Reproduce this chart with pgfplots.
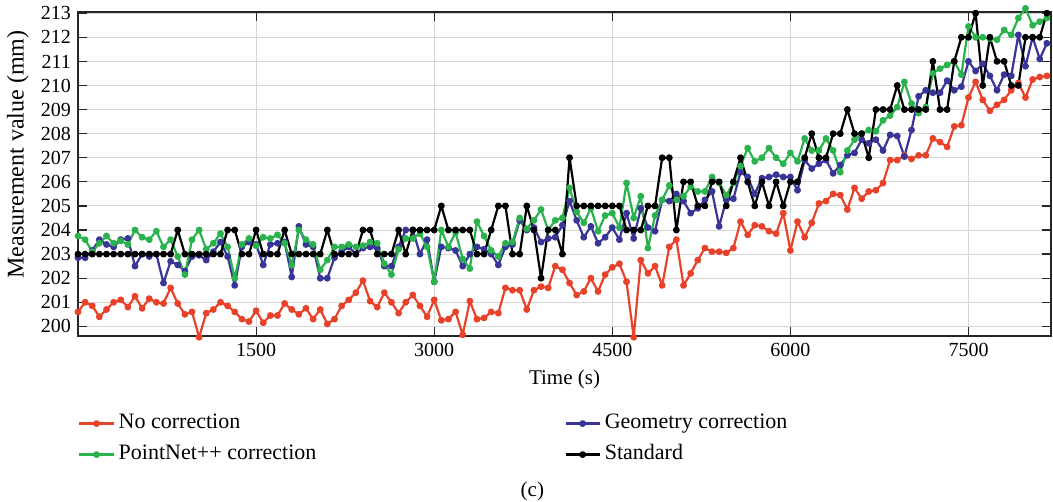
\documentclass[border=0pt]{standalone}
\usepackage{fontspec}
\setmainfont{Liberation Serif}
\usepackage{pgfplots}
\usepackage{pgfplotstable}
\pgfplotsset{compat=1.18}

\definecolor{cRed}{RGB}{233,66,42}
\definecolor{cBlue}{RGB}{56,52,152}
\definecolor{cGreen}{RGB}{42,178,76}
\definecolor{cGrid}{RGB}{214,214,214}

% time (s), no correction, geometry, pointnet++, standard
\pgfplotstableread{
t red blue green black
0 200.6 202.85 203.75 203
60 201.0 202.85 203.6 203
120 200.85 203.15 203.1 203
180 200.4 203.6 203.45 203
240 200.7 203.4 203.75 203
300 201.0 203.3 203.45 203
360 201.1 203.6 203.55 203
420 200.8 203.65 203.4 203
480 201.25 202.5 204.0 203
540 200.75 203.0 203.7 203
600 201.15 202.9 203.6 203
660 201.0 203.0 203.95 203
720 200.95 201.8 203.3 203
780 201.6 202.7 203.6 203
840 200.95 202.55 202.9 204
900 200.5 202.3 202.15 203
960 200.6 202.9 203.6 203
1020 199.55 202.95 204.0 203
1080 200.55 202.75 203.2 203
1140 200.7 203.1 203.45 203
1200 201.0 203.5 203.85 203
1260 200.85 202.9 203.3 204
1320 200.6 201.7 202.0 204
1380 200.3 203.3 203.4 203
1440 200.2 203.5 203.65 203
1500 200.65 203.4 203.35 204
1560 200.15 202.55 203.7 203
1620 200.45 203.4 203.65 203
1680 200.45 203.45 203.8 203
1740 200.95 203.5 203.45 204
1800 200.7 202.05 202.55 203
1860 200.5 204.15 204.0 203
1920 200.75 203.4 203.6 203
1980 200.3 203.3 203.4 203
2040 200.7 202.0 202.35 203
2100 200.1 202.0 202.75 204
2160 200.3 202.85 203.3 203
2220 200.85 203.1 203.3 203
2280 201.1 203.3 203.4 203
2340 201.4 203.0 203.3 203
2400 201.9 203.25 203.35 204
2460 201.05 203.3 203.5 204
2520 200.8 203.25 203.45 203
2580 201.4 202.5 202.6 203
2640 201.0 202.5 202.15 203
2700 200.55 203.3 203.2 204
2760 201.0 204.0 203.65 203
2820 201.3 204.0 203.65 204
2880 200.85 203.0 203.85 204
2940 200.4 203.6 203.3 204
3000 201.1 201.85 201.85 204
3060 200.25 203.3 204.0 205
3120 200.3 203.25 203.3 204
3180 200.6 203.15 203.9 204
3240 199.65 202.5 202.8 204
3300 201.05 203.0 202.4 204
3360 200.3 203.3 204.35 203
3420 200.35 203.2 203.75 203
3480 200.6 203.0 203.15 204
3540 200.55 202.55 202.9 205
3600 201.6 203.3 203.45 205
3660 201.5 203.4 203.5 203
3720 201.5 204.4 204.5 203
3780 200.7 204.0 204.05 205
3840 201.5 204.1 204.4 204
3900 201.65 203.5 204.85 202
3960 201.6 203.65 204.0 204
4020 202.5 203.7 204.4 204
4080 202.35 204.2 204.5 203
4140 201.8 205.2 205.75 207
4200 201.3 204.4 204.75 205
4260 201.45 203.7 204.3 205
4320 202.0 204.15 204.9 205
4380 201.45 203.45 203.95 205
4440 202.15 203.7 204.6 205
4500 202.45 204.1 204.7 205
4560 202.6 203.6 204.1 205
4620 201.85 204.7 205.95 204
4680 199.55 203.65 204.5 204
4740 202.75 204.9 205.4 204
4800 202.2 204.1 203.25 205
4860 202.5 203.95 204.6 205
4920 201.7 205.25 205.25 207
4980 203.3 205.2 205.85 207
5040 203.6 205.5 205.25 204
5100 201.7 205.2 205.4 206
5160 202.2 204.7 205.8 206
5220 202.75 204.9 205.6 205
5280 203.25 205.25 205.6 205
5340 203.1 205.6 206.2 206
5400 203.1 204.15 205.95 206
5460 203.05 205.25 205.45 205
5520 203.25 205.3 205.95 206
5580 204.35 206.4 206.65 207
5640 203.8 206.2 207.4 206
5700 204.2 205.5 206.85 205
5760 204.15 206.15 207.0 206
5820 203.95 206.2 207.4 205
5880 203.85 206.3 207.0 206
5940 204.7 206.2 206.75 205
6000 203.15 206.2 207.2 206
6060 204.35 205.65 206.85 206
6120 203.7 206.9 207.8 207
6180 204.3 206.55 207.3 208
6240 205.1 206.75 207.3 207
6300 205.2 206.9 207.8 207
6360 205.5 206.35 207.3 208
6420 205.45 206.7 206.4 208
6480 204.85 207.1 207.3 209
6540 205.75 207.2 207.75 208
6600 205.3 207.75 208.0 208
6660 205.6 207.6 208.15 207
6720 205.65 207.75 208.1 209
6780 205.95 207.3 208.55 209
6840 206.9 207.95 208.75 209
6900 206.9 207.9 209.1 210
6960 207.1 207.05 210.15 209
7020 206.95 208.15 209.25 209
7080 207.1 209.55 208.85 209
7140 207.1 209.8 209.1 209
7200 207.8 209.7 210.5 211
7260 207.65 209.7 210.7 209
7320 207.45 210.2 210.85 209
7380 208.3 209.8 211.0 211
7440 208.35 209.95 210.45 212
7500 209.5 211.0 212.45 212
7560 210.15 210.6 212.0 213
7620 209.4 210.9 212.0 210
7680 208.95 210.4 211.95 212
7740 209.2 209.8 211.9 211
7800 209.4 210.45 212.3 211
7860 209.8 210.4 212.1 210
7920 210.1 212.1 212.8 210
7980 209.5 210.8 213.2 212
8040 210.25 212.0 212.5 212
8100 210.35 211.1 212.65 212
8160 210.4 211.75 212.8 213
}\meas

\begin{document}
\begin{tikzpicture}
\useasboundingbox (-39pt,-83pt) rectangle (487.5pt,168pt);
\begin{axis}[
    scale only axis,
    width=486.5pt,
    height=162pt,
    xmin=0, xmax=8195,
    ymin=199.6, ymax=213.05,
    xtick={1500,3000,4500,6000,7500},
    ytick={200,201,...,213},
    scaled x ticks=false,
    scaled y ticks=false,
    grid=major,
    major grid style={cGrid, line width=0.5pt},
    axis line style={black!85, line width=0.6pt},
    tick style={black!85, line width=0.6pt},
    tick align=inside,
    clip=false,
    /pgf/number format/assume math mode=true,
    /pgf/number format/1000 sep={},
    ticklabel style={font=\fontsize{10}{12}\selectfont},
    xlabel={Time (s)},
    ylabel={Measurement value (mm)},
    xlabel style={font=\fontsize{10.5}{12}\selectfont},
    ylabel style={font=\fontsize{12}{14}\selectfont, at={(axis description cs:-0.0617,0.56)}, anchor=center},
    legend columns=2,
    legend cell align=left,
    legend style={draw=none, fill=none, inner sep=0pt,
        at={(axis description cs:0,-0.232)}, anchor=north west,
        font=\fontsize{11}{13}\selectfont,
        nodes={inner ysep=1.5pt, text height=7pt, text depth=2pt},
        row sep=3.5pt,
        /tikz/column 2/.style={column sep=122pt}},
    every axis plot/.append style={line width=1.1pt, line join=round, mark=*, mark size=1.15pt},
]
\addplot[cRed] table[x=t, y=red] {\meas};
\addlegendentry{No correction}
\addplot[cBlue] table[x=t, y=blue] {\meas};
\addlegendentry{Geometry correction}
\addplot[cGreen] table[x=t, y=green] {\meas};
\addlegendentry{PointNet++ correction}
\addplot[black] table[x=t, y=black] {\meas};
\addlegendentry{Standard}
\node[font=\fontsize{10.5}{12}\selectfont] at (rel axis cs:0.467,-0.481) {(c)};
\end{axis}
\end{tikzpicture}
\end{document}
